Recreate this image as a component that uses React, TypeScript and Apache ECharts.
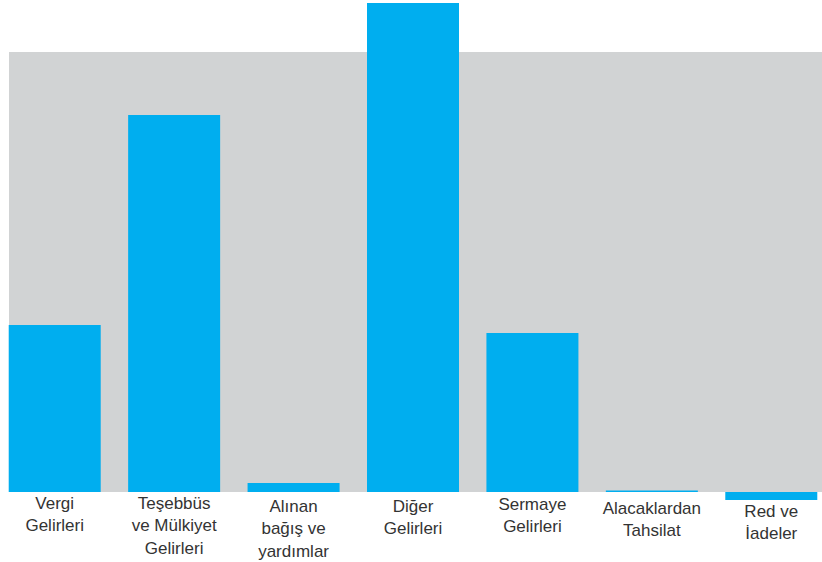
import React, { useEffect, useRef } from "react";
import * as echarts from "echarts";

const categories = [
  "Vergi\nGelirleri",
  "Teşebbüs\nve Mülkiyet\nGelirleri",
  "Alınan\nbağış ve\nyardımlar",
  "Diğer\nGelirleri",
  "Sermaye\nGelirleri",
  "Alacaklardan\nTahsilat",
  "Red ve\nİadeler",
];
const values = [167, 377, 9, 489, 159, 1.5, -8];
const labelOffsets = [0, 0, 3, 3, 1, 5, 8];

export default function App() {
  const ref = useRef<HTMLDivElement>(null);
  useEffect(() => {
    if (!ref.current) return;
    const chart = echarts.init(ref.current, null, { renderer: "svg" });
    chart.setOption({
      animation: false,
      backgroundColor: "#ffffff",
      graphic: [
        {
          type: "rect",
          z: -10,
          shape: { x: 9, y: 52, width: 813, height: 440 },
          style: { fill: "#D1D3D4" },
          silent: true,
        },
      ],
      grid: {
        left: -5,
        width: 836,
        top: 0,
        bottom: 60,
        containLabel: false,
        outerBoundsMode: "none",
      },
      xAxis: {
        type: "category",
        data: categories.map((c, i) => ({
          value: c,
          textStyle: { padding: [labelOffsets[i], 0, 0, 0] },
        })),
        axisLine: { show: false },
        axisTick: { show: false },
        splitLine: { show: false },
        axisLabel: {
          interval: 0,
          margin: -10,
          color: "#333333",
          fontSize: 17,
          lineHeight: 22.5,
          fontFamily: "Liberation Sans",
          verticalAlign: "top",
        },
      },
      yAxis: {
        type: "value",
        min: -10,
        max: 492,
        show: false,
        splitLine: { show: false },
      },
      series: [
        {
          type: "bar",
          data: values,
          barWidth: 92,
          itemStyle: { color: "#00AEEF" },
        },
      ],
    });
    return () => chart.dispose();
  }, []);
  return (
    <div
      ref={ref}
      style={{ position: "fixed", left: 0, top: 0, width: 822, height: 562 }}
    />
  );
}
